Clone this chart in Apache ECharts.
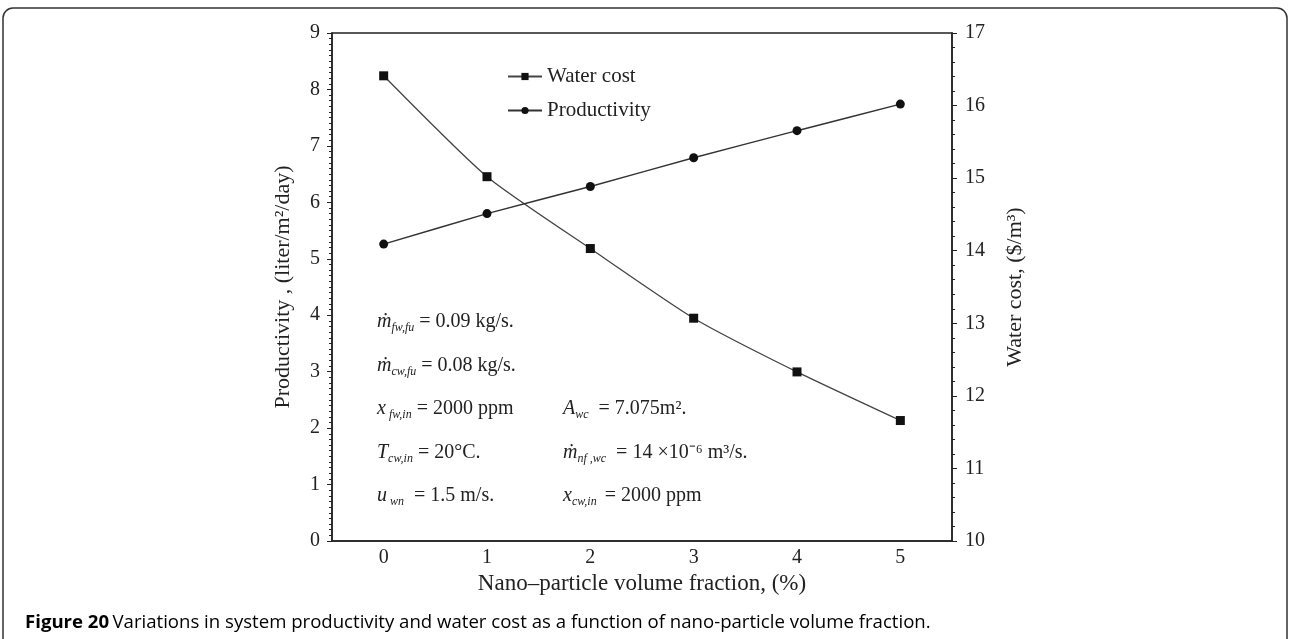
<!DOCTYPE html>
<html>
<head>
<meta charset="utf-8">
<title>Figure 20</title>
<script src="https://cdn.jsdelivr.net/npm/echarts@6/dist/echarts.min.js"></script>
<style>
  html, body { margin: 0; padding: 0; background: #fff; }
  #chart { width: 1290px; height: 639px; }
</style>
</head>
<body>
<div id="chart"></div>
<script>
// data
const fractions = ['0', '1', '2', '3', '4', '5'];
const waterCost = [16.41, 15.02, 14.03, 13.07, 12.33, 11.66];
const productivity = [5.26, 5.80, 6.28, 6.79, 7.27, 7.74];

const serif = 'Liberation Serif';
const ink = '#222';

const chart = echarts.init(document.getElementById('chart'));

// rich text styles for the operating conditions
const rich = {
  v: { fontFamily: serif, fontStyle: 'italic', fontSize: 20, color: ink },
  s: { fontFamily: serif, fontStyle: 'italic', fontSize: 12, color: ink, padding: [11, 0, 0, 0] },
  n: { fontFamily: serif, fontSize: 20, color: ink }
};
const note = (x, y, text) => ({
  type: 'text', left: x, top: y,
  style: { text: text, rich: rich, fill: ink }
});

const option = {
  backgroundColor: '#fff',
  animation: false,
  grid: { left: 332, right: 338, top: 33, bottom: 98, show: true, borderColor: ink, borderWidth: 1.5 },
  legend: {
    orient: 'vertical',
    left: 502,
    top: 61,
    itemWidth: 34,
    itemHeight: 9,
    itemGap: 13,
    textStyle: { fontFamily: serif, fontSize: 21, color: ink },
    data: ['Water cost', 'Productivity']
  },
  xAxis: {
    type: 'category',
    data: fractions,
    boundaryGap: true,
    name: 'Nano\u2013particle volume fraction, (%)',
    nameLocation: 'middle',
    nameGap: 30,
    nameTextStyle: { fontFamily: serif, fontSize: 23, color: ink },
    axisLine: { lineStyle: { color: ink, width: 1.5 } },
    axisTick: { alignWithLabel: true, length: 5, lineStyle: { color: ink } },
    axisLabel: { fontFamily: serif, fontSize: 20, color: ink, margin: 7 },
    splitLine: { show: false }
  },
  yAxis: [
    {
      type: 'value',
      min: 0, max: 9, interval: 1,
      name: 'Productivity , (liter/m\u00b2/day)',
      nameLocation: 'middle',
      nameGap: 38,
      nameRotate: 90,
      nameTextStyle: { fontFamily: serif, fontSize: 22, color: ink },
      axisLine: { show: true, lineStyle: { color: ink, width: 1.5 } },
      axisTick: { show: true, length: 5, lineStyle: { color: ink } },
      minorTick: { show: true, splitNumber: 10, length: 3, lineStyle: { color: ink } },
      axisLabel: { fontFamily: serif, fontSize: 20, color: ink, margin: 12 },
      splitLine: { show: false }
    },
    {
      type: 'value',
      position: 'right',
      min: 10, max: 17, interval: 1,
      name: 'Water cost, ($/m\u00b3)',
      nameLocation: 'middle',
      nameGap: 52,
      nameRotate: 90,
      nameTextStyle: { fontFamily: serif, fontSize: 22, color: ink },
      axisLine: { show: true, lineStyle: { color: ink, width: 1.5 } },
      axisTick: { show: true, length: 5, lineStyle: { color: ink } },
      minorTick: { show: true, splitNumber: 5, length: 3, lineStyle: { color: ink } },
      axisLabel: { fontFamily: serif, fontSize: 20, color: ink, margin: 13 },
      splitLine: { show: false }
    }
  ],
  series: [
    {
      name: 'Water cost',
      type: 'line',
      yAxisIndex: 1,
      data: waterCost,
      smooth: 0.2,
      symbol: 'rect',
      symbolSize: 9,
      itemStyle: { color: '#111' },
      lineStyle: { color: '#444', width: 1.3 }
    },
    {
      name: 'Productivity',
      type: 'line',
      yAxisIndex: 0,
      data: productivity,
      smooth: 0.15,
      symbol: 'circle',
      symbolSize: 9,
      itemStyle: { color: '#111' },
      lineStyle: { color: '#333', width: 1.5 }
    }
  ],
  graphic: [
    // rounded frame around the figure
    {
      type: 'rect',
      shape: { x: 3, y: 8, width: 1284, height: 700, r: [10, 10, 0, 0] },
      style: { fill: 'none', stroke: '#333', lineWidth: 1.5 },
      silent: true
    },
    note(377, 312, '{v|\u1e41}{s|fw,fu}{n| = 0.09 kg/s.}'),
    note(377, 356, '{v|\u1e41}{s|cw,fu}{n| = 0.08 kg/s.}'),
    note(377, 399, '{v|x}{s| fw,in}{n| = 2000 ppm}'),
    note(377, 443, '{v|T}{s|cw,in}{n| = 20\u00b0C.}'),
    note(377, 486, '{v|u}{s| wn}{n|  = 1.5 m/s.}'),
    note(563, 399, '{v|A}{s|wc}{n|  = 7.075m\u00b2.}'),
    note(563, 443, '{v|\u1e41}{s|nf ,wc}{n|  = 14 \u00d710\u207b\u2076 m\u00b3/s.}'),
    note(563, 486, '{v|x}{s|cw,in }{n| = 2000 ppm}'),
    {
      type: 'text',
      left: 25,
      top: 613,
      style: {
        text: '{b|Figure 20} {t|Variations in system productivity and water cost as a function of nano-particle volume fraction.}',
        rich: {
          b: { fontFamily: 'Open Sans', fontWeight: 'bold', fontSize: 18.6, color: '#222' },
          t: { fontFamily: 'Open Sans', fontSize: 18.6, color: '#333' }
        }
      }
    }
  ]
};

chart.setOption(option);
window.addEventListener('resize', () => chart.resize());
</script>
</body>
</html>
